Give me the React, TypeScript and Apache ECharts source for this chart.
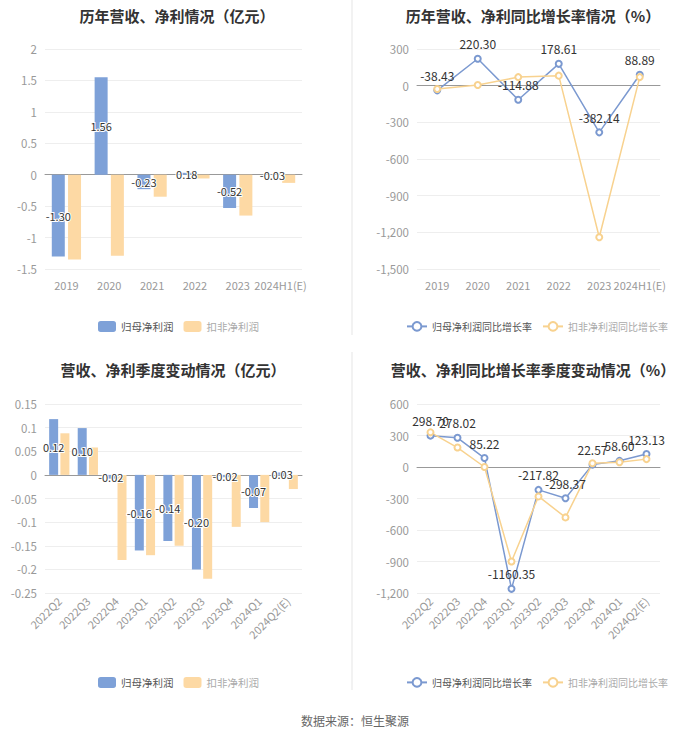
import React, { useEffect, useRef } from "react";
import * as echarts from "echarts";

const yearCats = ["2019", "2020", "2021", "2022", "2023", "2024H1(E)"];
const yearParent = [-1.3, 1.55, -0.23, 0.03, -0.53, -0.005];
const yearParentLabels = ["-1.30", "1.56", "-0.23", "0.18", "-0.52", "-0.03"];
const yearDeduct = [-1.35, -1.29, -0.35, -0.06, -0.65, -0.13];

const yearParentGrowth = [-38.43, 220.3, -114.88, 178.61, -382.14, 88.89];
const yearDeductGrowth = [-27, 5, 70, 82, -1240, 70];

const quarterCats = ["2022Q2", "2022Q3", "2022Q4", "2023Q1", "2023Q2", "2023Q3", "2023Q4", "2024Q1", "2024Q2(E)"];
const quarterParent = [0.118, 0.099, -0.008, -0.16, -0.14, -0.2, -0.005, -0.07, 0.005];
const quarterParentLabels = ["0.12", "0.10", "-0.02", "-0.16", "-0.14", "-0.20", "-0.02", "-0.07", "0.03"];
const quarterDeduct = [0.088, 0.058, -0.18, -0.17, -0.15, -0.22, -0.11, -0.1, -0.03];

const quarterParentGrowth = [298.7, 278.02, 85.22, -1160.35, -217.82, -298.37, 22.57, 58.6, 123.13];
const quarterDeductGrowth = [330, 185, 0, -900, -280, -480, 35, 45, 75];

const BLUE = "#7ea1d8";
const ORANGE = "#fdd9a4";
const LBLUE = "#7b99d0";
const LORANGE = "#f8d28f";

export default function App() {
  const ref = useRef<HTMLDivElement>(null);
  useEffect(() => {
    if (!ref.current) return;
    const chart = echarts.init(ref.current, undefined, { renderer: "svg" });
    const font = "'Noto Sans CJK SC', 'Noto Sans', sans-serif";
    const titleStyle = { fontSize: 15, fontWeight: "bold" as const, color: "#333", fontFamily: font };
    const axisLabel = { color: "#999", fontSize: 11, fontFamily: font };
    const splitLine = { show: true, lineStyle: { color: "#eeeeee" } };
    const catAxis = (gi: number, data: string[], rotate: number) => ({
      type: "category",
      gridIndex: gi,
      data,
      axisLine: { lineStyle: { color: "#999" } },
      axisTick: { alignWithLabel: true, lineStyle: { color: "#999" } },
      axisLabel: { ...axisLabel, rotate, interval: 0, margin: rotate ? 6 : 10 },
    });
    const valAxis = (gi: number, min: number, max: number, interval: number) => ({
      type: "value",
      gridIndex: gi,
      min,
      max,
      interval,
      axisLine: { show: false },
      axisTick: { show: false },
      axisLabel: { ...axisLabel, fontSize: 11.5 },
      splitLine,
    });
    const barLabel = (labels: string[]) => ({
      show: true,
      position: "inside",
      color: "#333",
      fontSize: 11,
      fontFamily: font,
      textBorderColor: "#fff",
      textBorderWidth: 2,
      formatter: (p: any) => labels[p.dataIndex],
    });
    const lineLabel = {
      show: true,
      position: "top",
      color: "#333",
      fontSize: 12,
      fontFamily: font,
      formatter: (p: any) => p.value.toFixed(2),
    };
    const legendBar = (top: number, left: number) => ({
      top,
      left,
      itemWidth: 18,
      itemHeight: 11,
      itemGap: 10,
      icon: "roundRect",
      textStyle: { fontSize: 10.5, fontFamily: font },
      data: [
        { name: "归母净利润", textStyle: { color: "#555" } },
        { name: "扣非净利润", textStyle: { color: "#aaa" } },
      ],
    });
    const legendLine = (top: number, left: number) => ({
      top,
      left,
      itemWidth: 20,
      itemHeight: 11,
      itemGap: 10,
      textStyle: { fontSize: 10, fontFamily: font },
      data: [
        { name: "归母净利润同比增长率", textStyle: { color: "#555" } },
        { name: "扣非净利润同比增长率", textStyle: { color: "#aaa" } },
      ],
    });

    const option: any = {
      animation: false,
      backgroundColor: "#fff",
      title: [
        { text: "历年营收、净利情况（亿元）", left: 172, top: 3, textAlign: "center", textStyle: titleStyle },
        { text: "历年营收、净利同比增长率情况（%）", left: 528, top: 3, textAlign: "center", textStyle: titleStyle },
        { text: "营收、净利季度变动情况（亿元）", left: 168, top: 357, textAlign: "center", textStyle: titleStyle },
        { text: "营收、净利同比增长率季度变动情况（%）", left: 528, top: 357, textAlign: "center", textStyle: titleStyle },
        {
          text: "数据来源：恒生聚源",
          left: 350,
          top: 709,
          textAlign: "center",
          textStyle: { fontSize: 12, fontWeight: "normal", color: "#666", fontFamily: font },
        },
      ],
      legend: [
        legendBar(316, 93),
        legendLine(316, 401),
        legendBar(672, 93),
        legendLine(672, 401),
      ],
      grid: [
        { left: 45, width: 257, top: 49, height: 220 },
        { left: 417, width: 243, top: 49, height: 220 },
        { left: 45, width: 257, top: 404, height: 189 },
        { left: 417, width: 243, top: 404, height: 189 },
      ],
      xAxis: [
        catAxis(0, yearCats, 0),
        catAxis(1, yearCats, 0),
        catAxis(2, quarterCats, 45),
        catAxis(3, quarterCats, 45),
      ],
      yAxis: [
        valAxis(0, -1.5, 2, 0.5),
        valAxis(1, -1500, 300, 300),
        valAxis(2, -0.25, 0.15, 0.05),
        valAxis(3, -1200, 600, 300),
      ],
      series: [
        {
          name: "归母净利润",
          type: "bar",
          xAxisIndex: 0,
          yAxisIndex: 0,
          data: yearParent,
          barWidth: 13,
          barGap: "25%",
          itemStyle: { color: BLUE },
          label: barLabel(yearParentLabels),
          z: 3,
        },
        {
          name: "扣非净利润",
          type: "bar",
          xAxisIndex: 0,
          yAxisIndex: 0,
          data: yearDeduct,
          barWidth: 13,
          barGap: "25%",
          itemStyle: { color: ORANGE },
        },
        {
          name: "归母净利润同比增长率",
          type: "line",
          xAxisIndex: 1,
          yAxisIndex: 1,
          data: yearParentGrowth,
          symbol: "emptyCircle",
          symbolSize: 6,
          lineStyle: { color: LBLUE, width: 1.5 },
          itemStyle: { color: LBLUE },
          label: lineLabel,
          z: 3,
        },
        {
          name: "扣非净利润同比增长率",
          type: "line",
          xAxisIndex: 1,
          yAxisIndex: 1,
          data: yearDeductGrowth,
          symbol: "emptyCircle",
          symbolSize: 6,
          lineStyle: { color: LORANGE, width: 1.5 },
          itemStyle: { color: LORANGE },
        },
        {
          name: "归母净利润",
          type: "bar",
          xAxisIndex: 2,
          yAxisIndex: 2,
          data: quarterParent,
          barWidth: 9,
          barGap: "25%",
          itemStyle: { color: BLUE },
          label: barLabel(quarterParentLabels),
          z: 3,
        },
        {
          name: "扣非净利润",
          type: "bar",
          xAxisIndex: 2,
          yAxisIndex: 2,
          data: quarterDeduct,
          barWidth: 9,
          barGap: "25%",
          itemStyle: { color: ORANGE },
        },
        {
          name: "归母净利润同比增长率",
          type: "line",
          xAxisIndex: 3,
          yAxisIndex: 3,
          data: quarterParentGrowth,
          symbol: "emptyCircle",
          symbolSize: 6,
          lineStyle: { color: LBLUE, width: 1.5 },
          itemStyle: { color: LBLUE },
          label: lineLabel,
          z: 3,
        },
        {
          name: "扣非净利润同比增长率",
          type: "line",
          xAxisIndex: 3,
          yAxisIndex: 3,
          data: quarterDeductGrowth,
          symbol: "emptyCircle",
          symbolSize: 6,
          lineStyle: { color: LORANGE, width: 1.5 },
          itemStyle: { color: LORANGE },
        },
      ],
      graphic: [
        { type: "line", shape: { x1: 352, y1: 0, x2: 352, y2: 335 }, style: { stroke: "#f2f2f2", lineWidth: 2 } },
        { type: "line", shape: { x1: 352, y1: 352, x2: 352, y2: 690 }, style: { stroke: "#f2f2f2", lineWidth: 2 } },
      ],
    };
    chart.setOption(option);
    return () => chart.dispose();
  }, []);
  return (
    <div
      ref={ref}
      style={{ position: "fixed", left: 0, top: 0, width: 700, height: 734, background: "#fff" }}
    />
  );
}
